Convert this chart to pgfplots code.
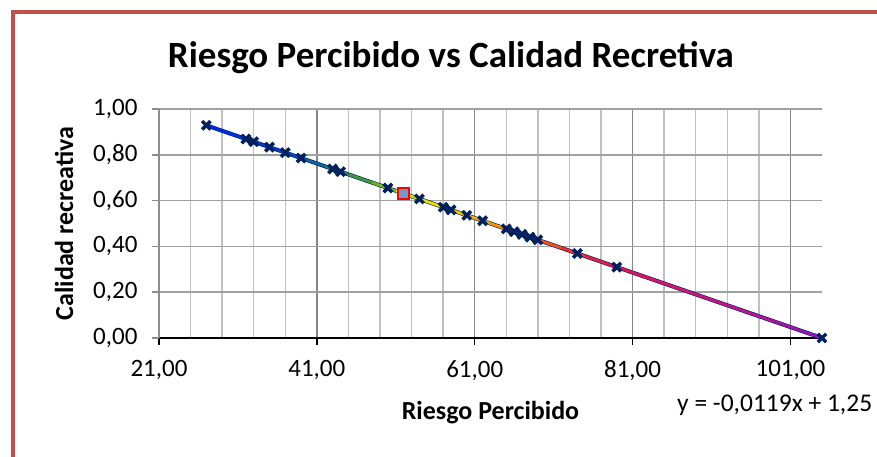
\documentclass[border=0pt]{standalone}
\usepackage{pgfplots}
\pgfplotsset{compat=1.18}
\usepackage{fontspec}
\setmainfont{Carlito}
\definecolor{brd}{RGB}{192,80,77}
\definecolor{navy}{RGB}{0,32,96}
\pgfplotsset{colormap={trend}{rgb255(0)=(0,40,235) rgb255(9)=(0,60,210) rgb255(14)=(20,100,150) rgb255(18)=(40,140,70) rgb255(22)=(100,175,30) rgb255(26)=(235,235,0) rgb255(33)=(245,190,0) rgb255(40)=(245,120,10) rgb255(47)=(235,40,50) rgb255(53)=(225,20,90) rgb255(65)=(200,20,135) rgb255(78)=(150,20,185)}}
\begin{document}
\begin{tikzpicture}
\begin{axis}[
  scale only axis,
  width=663pt, height=229pt,
  xmin=21, xmax=105, ymin=0, ymax=1,
  clip=false,
  xtick={21,41,61,81,101}, ytick={0,0.2,0.4,0.6,0.8,1},
  minor x tick num=4,
  xmajorgrids, xminorgrids, ymajorgrids,
  major x grid style={color={rgb,255:red,134;green,134;blue,134}, line width=1.5pt},
  minor x grid style={color={rgb,255:red,192;green,192;blue,192}, line width=1.5pt},
  major y grid style={color={rgb,255:red,160;green,160;blue,160}, line width=1.5pt},
  axis x line*=bottom, axis y line*=left,
  x axis line style={black, line width=1.5pt, -},
  y axis line style={color={rgb,255:red,140;green,140;blue,140}, line width=1.5pt, -},
  tick align=outside, major tick length=7pt, minor tick length=0pt,
  xtick style={black, line width=1.5pt},
  ytick style={color={rgb,255:red,140;green,140;blue,140}, line width=1.5pt},
  /pgf/number format/assume math mode=true,
  tick label style={font=\fontsize{25}{30}\selectfont},
  xticklabel style={yshift=-12pt, /pgf/number format/.cd, fixed, fixed zerofill, precision=2, use comma},
  yticklabel style={xshift=-11pt, /pgf/number format/.cd, fixed, fixed zerofill, precision=2, use comma},
  scaled ticks=false,
  title={Riesgo Percibido vs Calidad Recretiva},
  title style={font=\fontsize{37}{42}\selectfont\bfseries, at={(axis description cs:0.4404,1.157)}, anchor=base, yshift=0pt},
  xlabel={Riesgo Percibido},
  xlabel style={font=\fontsize{26}{30}\selectfont\bfseries, at={(axis description cs:0.5,-0.358)}, anchor=base},
  ylabel={Calidad recreativa},
  ylabel style={font=\fontsize{26}{30}\selectfont\bfseries, at={(axis description cs:-0.1433,0.5)}, anchor=center},
]
\addplot[only marks, mark=x, navy, mark size=6pt, line width=3.5pt] coordinates {
(27,0.9286) (32,0.8690) (33,0.8571) (35,0.8333) (37,0.8095) (39,0.7857)
(43,0.7381) (44,0.7262) (50,0.6548) (52,0.6310) (54,0.6071) (57,0.5714)
(58,0.5595) (60,0.5357) (62,0.5119) (65,0.4762) (66,0.4643) (67,0.4524)
(68,0.4405) (69,0.4286) (74,0.3690) (79,0.3095) (105,0.0000)
};
\addplot[only marks, mark=square*, mark size=5.5pt, mark options={draw=red, fill={rgb,255:red,120;green,150;blue,210}, line width=1.5pt}] coordinates {(52,0.6310)};
\addplot[navy, line width=4pt] coordinates {(27,0.9286) (105,0.0000)};
\addplot[mesh, point meta=x, colormap name=trend, line width=2.8pt] coordinates {
(27,0.9286) (30,0.8929) (33,0.8571) (36,0.8214) (39,0.7857) (42,0.7500)
(45,0.7143) (48,0.6786) (51,0.6429) (54,0.6071) (57,0.5714) (60,0.5357)
(63,0.5000) (66,0.4643) (69,0.4286) (72,0.3929) (75,0.3571) (78,0.3214)
(81,0.2857) (84,0.2500) (87,0.2143) (90,0.1786) (93,0.1429) (96,0.1071)
(99,0.0714) (102,0.0357) (105,0.0000)
};
\coordinate (P0) at (rel axis cs:-0.23982,-0.51965);
\coordinate (P1) at (rel axis cs:1.08296,1.47598);
\coordinate (B0) at (rel axis cs:-0.21946,-0.60);
\coordinate (B1) at (rel axis cs:-0.21946,1.42140);
\coordinate (B2) at (rel axis cs:1.12,1.42140);
\node[anchor=base west, font=\fontsize{25.5}{30}\selectfont, inner sep=0pt] at (rel axis cs:0.78130,-0.32314) {y = -0,0119x + 1,25};
\end{axis}
\draw[brd, line width=4pt] (B0) -- (B1) -- (B2);
\pgfresetboundingbox
\useasboundingbox (P0) rectangle (P1);
\end{tikzpicture}
\end{document}
